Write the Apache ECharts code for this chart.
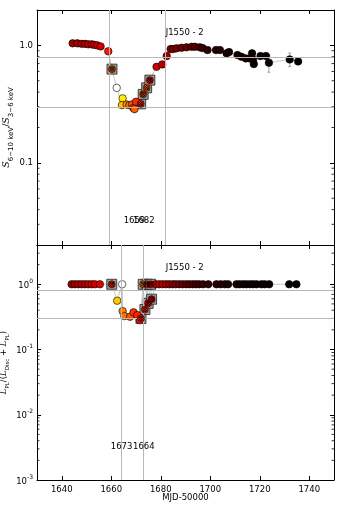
<!DOCTYPE html>
<html>
<head>
<meta charset="utf-8">
<script src="https://cdn.jsdelivr.net/npm/echarts@6/dist/echarts.min.js"></script>
<style>
  html, body { margin: 0; padding: 0; background: #fff; }
  #chart { width: 341px; height: 511px; }
</style>
</head>
<body>
<div id="chart"></div>
<script>
// ---- data ----
// top panel: hardness ratio S(6-10 keV)/S(3-6 keV)
const topDays = [1644.4, 1646.3, 1648.0, 1649.4, 1650.7, 1652.1, 1653.1, 1654.3, 1655.7, 1658.8,
  1662.2, 1664.6, 1664.3, 1666.2, 1667.3, 1668.4, 1668.9, 1669.4, 1670.0,
  1678.3, 1680.6, 1682.4, 1684.0, 1685.0, 1686.4, 1688.4, 1690.4, 1692.5, 1693.8, 1695.8,
  1696.9, 1698.9, 1702.3, 1703.9, 1706.6, 1707.6, 1711.0, 1712.6, 1714.4, 1716.0, 1716.9,
  1717.3, 1717.6, 1720.3, 1722.5, 1723.7, 1732.1, 1735.5];
const topRatio = [1.04, 1.04, 1.03, 1.03, 1.02, 1.02, 1.01, 1.0, 0.98, 0.89,
  0.435, 0.354, 0.310, 0.314, 0.310, 0.314, 0.294, 0.287, 0.331,
  0.657, 0.689, 0.811, 0.93, 0.93, 0.943, 0.954, 0.962, 0.973, 0.973, 0.962,
  0.948, 0.912, 0.912, 0.912, 0.855, 0.877, 0.827, 0.80, 0.775, 0.775, 0.855,
  0.76, 0.693, 0.811, 0.811, 0.711, 0.76, 0.73];
const topErr = [0.01, 0.01, 0.01, 0.01, 0.01, 0.01, 0.01, 0.01, 0.01, 0.02,
  0.02, 0.02, 0.02, 0.02, 0.02, 0.02, 0.02, 0.02, 0.02,
  0.02, 0.02, 0.02, 0.02, 0.02, 0.02, 0.02, 0.02, 0.02, 0.02, 0.02,
  0.02, 0.02, 0.02, 0.02, 0.03, 0.03, 0.03, 0.03, 0.03, 0.03, 0.05,
  0.03, 0.04, 0.04, 0.04, 0.12, 0.10, 0.04];
const topColors = ['#9a0000', '#a00000', '#a80000', '#ac0000', '#b20000', '#b80000', '#c00000', '#c80000', '#d40000', '#ff1400',
  '#ffffff', '#ffee00', '#ffc400', '#ff8a00', '#ff7000', '#ff5000', '#ff3c00', '#ff6000', '#ff2800',
  '#c80000', '#b40000', '#a00000', '#880000', '#800000', '#780000', '#700000', '#640000', '#5a0000', '#500000', '#460000',
  '#3c0000', '#300000', '#260000', '#220000', '#1c0000', '#1a0000', '#160000', '#140000', '#120000', '#100000', '#0e0000',
  '#0e0000', '#0c0000', '#0a0000', '#080000', '#060000', '#040000', '#020000'];
// top panel: hatched square points
const topSqDays = [1660.3, 1671.9, 1672.9, 1674.3, 1675.6];
const topSqRatio = [0.628, 0.318, 0.383, 0.435, 0.506];
const topSqColors = ['#e05000', '#ff2000', '#d04000', '#ff5000', '#e00000'];

// bottom panel: power-law fraction L_PL/(L_Disc+L_PL)
const botDays = [1644.0, 1645.3, 1646.7, 1648.0, 1649.4, 1650.7, 1652.1, 1653.4, 1655.4,
  1662.4, 1664.4, 1664.6, 1665.3, 1667.6, 1669.0, 1670.5, 1671.6,
  1678.0, 1679.4, 1680.7, 1682.1, 1683.4, 1684.8, 1686.0, 1687.4, 1688.8, 1690.2, 1691.5,
  1692.9, 1694.2, 1695.5, 1697.1, 1699.2, 1702.5, 1704.2, 1705.9, 1707.2, 1710.6, 1711.9,
  1713.3, 1714.6, 1716.0, 1717.3, 1718.7, 1720.7, 1722.0, 1723.8, 1731.9, 1734.8];
const botFrac = [1, 1, 1, 1, 1, 1, 1, 1, 1,
  0.56, 1, 0.388, 0.325, 0.318, 0.371, 0.337, 0.282,
  1, 1, 1, 1, 1, 1, 1, 1, 1, 1, 1,
  1, 1, 1, 1, 1, 1, 1, 1, 1, 1, 1,
  1, 1, 1, 1, 1, 1, 1, 1, 1, 1];
const botColors = ['#9a0000', '#a00000', '#a80000', '#b00000', '#b80000', '#c00000', '#c80000', '#d00000', '#e00000',
  '#ffc800', '#ffffff', '#ff8000', '#ff7000', '#ff5000', '#ff3000', '#ff2000', '#ff1000',
  '#c80000', '#bc0000', '#b00000', '#a40000', '#980000', '#8c0000', '#800000', '#760000', '#6c0000', '#620000', '#580000',
  '#4e0000', '#460000', '#3e0000', '#360000', '#2e0000', '#280000', '#220000', '#1e0000', '#1a0000', '#160000', '#140000',
  '#120000', '#100000', '#0e0000', '#0c0000', '#0a0000', '#080000', '#060000', '#050000', '#030000', '#020000'];
const botSqDays = [1660.2, 1672.0, 1672.9, 1673.6, 1674.5, 1674.9, 1675.9, 1676.3];
const botSqFrac = [1, 0.30, 1, 0.41, 1, 0.51, 1, 0.59];
const botSqColors = ['#e02000', '#ff2000', '#ff7000', '#ff2000', '#ff4000', '#e00000', '#d00000', '#c00000'];

// reference lines and labels
const topVLines = [1659, 1682];
const botVLines = [1664, 1673];
const hLines = [0.8, 0.3];
const X_MIN = 1630, X_MAX = 1750;
const TOP_Y = [0.02, 2];
const BOT_Y = [0.001, 4];

const FONT = 'DejaVu Sans';
const chart = echarts.init(document.getElementById('chart'));

function pairs(xs, ys) { return xs.map((x, i) => [x, ys[i]]); }
function sortedLine(a, b) { return a.concat(b).sort((p, q) => p[0] - q[0]); }

// minor log ticks (2..9 x 10^k) inside the extent
function minorTicks(lo, hi) {
  const out = [];
  for (let k = Math.floor(Math.log10(lo)); k <= Math.ceil(Math.log10(hi)); k++) {
    for (let m = 2; m <= 9; m++) {
      const v = m * Math.pow(10, k);
      if (v > lo && v < hi) out.push([X_MIN, v]);
    }
  }
  return out;
}

function minorTickSeries(xi, yi, lo, hi) {
  return {
    type: 'custom', xAxisIndex: xi, yAxisIndex: yi, silent: true, clip: false, z: 1,
    data: minorTicks(lo, hi),
    renderItem: function (params, api) {
      const l = api.coord([X_MIN, api.value(1)]);
      const r = api.coord([X_MAX, api.value(1)]);
      const st = { stroke: '#000', lineWidth: 0.8 };
      return { type: 'group', children: [
        { type: 'line', shape: { x1: l[0], y1: l[1], x2: l[0] + 2.5, y2: l[1] }, style: st },
        { type: 'line', shape: { x1: r[0], y1: r[1], x2: r[0] - 2.5, y2: r[1] }, style: st }
      ] };
    }
  };
}

function xAxisPair(gi, showLabels) {
  const base = {
    type: 'value', gridIndex: gi, min: X_MIN, max: X_MAX, splitNumber: 6,
    splitLine: { show: false },
    axisLine: { show: true, onZero: false, lineStyle: { color: '#000', width: 1 } },
    axisTick: { inside: true, length: 4, lineStyle: { color: '#000' } }
  };
  return [
    Object.assign({}, base, {
      position: 'bottom',
      axisLabel: {
        show: showLabels, color: '#000', fontFamily: FONT, fontSize: 8.5, margin: 5,
        formatter: v => (v === X_MIN || v === X_MAX) ? '' : String(v)
      },
      name: showLabels ? 'MJD-50000' : '', nameLocation: 'middle', nameGap: 13,
      nameMoveOverlap: false,
      nameTextStyle: { color: '#000', fontFamily: FONT, fontSize: 8.5 }
    }),
    Object.assign({}, base, { position: 'top', axisLabel: { show: false } })
  ];
}

function yAxisPair(gi, ext, fmt, name, rich, gap) {
  const base = {
    type: 'log', logBase: 10, gridIndex: gi, min: ext[0], max: ext[1],
    splitLine: { show: false },
    axisLine: { show: true, onZero: false, lineStyle: { color: '#000', width: 1 } },
    axisTick: { inside: true, length: 4, lineStyle: { color: '#000' } }
  };
  return [
    Object.assign({}, base, {
      position: 'left',
      axisLabel: { color: '#000', fontFamily: FONT, fontSize: 8.5, margin: 4, formatter: fmt, rich: rich },
      name: name, nameLocation: 'middle', nameGap: gap, nameRotate: 90,
      nameMoveOverlap: false,
      nameTextStyle: { color: '#000', fontFamily: FONT, fontSize: 8, rich: rich }
    }),
    Object.assign({}, base, { position: 'right', axisLabel: { show: false } })
  ];
}

const supRich = {
  b: { fontFamily: FONT, fontSize: 8.5, color: '#000', lineHeight: 12, verticalAlign: 'bottom' },
  sup: { fontFamily: FONT, fontSize: 6, color: '#000', lineHeight: 12, verticalAlign: 'top' },
  i: { fontFamily: 'DejaVu Serif', fontStyle: 'italic', fontSize: 8.5, color: '#000', lineHeight: 12, verticalAlign: 'top' },
  s: { fontFamily: FONT, fontSize: 5.5, color: '#000', lineHeight: 12, verticalAlign: 'bottom' },
  n: { fontFamily: FONT, fontSize: 8.5, color: '#000', lineHeight: 12, verticalAlign: 'top' }
};
// the top label has larger subscripts
const topRich = Object.assign({}, supRich, {
  i: { fontFamily: 'DejaVu Serif', fontStyle: 'italic', fontSize: 9.5, color: '#000', lineHeight: 13, verticalAlign: 'top' },
  s: { fontFamily: FONT, fontSize: 7, color: '#000', lineHeight: 13, verticalAlign: 'bottom' },
  n: { fontFamily: FONT, fontSize: 9.5, color: '#000', lineHeight: 13, verticalAlign: 'top' }
});

function topFmt(v) {
  if (Math.abs(v - 1) < 1e-9) return '1.0';
  if (Math.abs(v - 0.1) < 1e-9) return '0.1';
  return '';
}
function botFmt(v) {
  const e = Math.round(Math.log10(v));
  if (Math.abs(Math.pow(10, e) - v) > 1e-9 * v || v > 1.5) return '';
  return '{b|10}{sup|' + (e < 0 ? '-' + (-e) : e) + '}';
}

const refLineStyle = { color: '#b8b8b8', width: 1, type: 'solid' };
function refLines(vs) {
  return {
    silent: true, symbol: 'none', label: { show: false }, lineStyle: refLineStyle,
    data: vs.map(v => ({ xAxis: v })).concat(hLines.map(h => ({ yAxis: h })))
  };
}
function textMarks(items) {
  return {
    silent: true, symbolSize: 0, itemStyle: { color: 'transparent' },
    label: { show: true, position: 'right', distance: 0, color: '#000', fontFamily: FONT, fontSize: 8.5,
      formatter: p => p.name },
    data: items.map(t => ({ name: t[0], coord: [t[1], t[2]] }))
  };
}

const circleStyle = cols => ({
  color: p => cols[p.dataIndex], borderColor: '#000', borderWidth: 0.6, opacity: 1
});
const hatchPath = 'path://M0,0L10,10M10,0L0,10M5,0L0,5M5,0L10,5M0,5L5,10M10,5L5,10';

function panelSeries(xi, yi, circ, circCols, sq, sqCols, vLines, texts) {
  return [
    {
      type: 'line', xAxisIndex: xi, yAxisIndex: yi, data: sortedLine(circ, sq),
      showSymbol: false, silent: true, z: 2,
      lineStyle: { color: '#b0b0b0', width: 0.7 },
      markLine: refLines(vLines), markPoint: textMarks(texts)
    },
    {
      type: 'scatter', xAxisIndex: xi, yAxisIndex: yi, data: sq, z: 3,
      symbol: 'rect', symbolSize: 10,
      itemStyle: { color: '#9c9c9c', borderColor: '#222', borderWidth: 0.8, opacity: 1 }
    },
    {
      type: 'scatter', xAxisIndex: xi, yAxisIndex: yi, data: circ, z: 4,
      symbol: 'circle', symbolSize: 7.5, itemStyle: circleStyle(circCols)
    },
    {
      type: 'scatter', xAxisIndex: xi, yAxisIndex: yi, data: sq, z: 5,
      symbol: 'circle', symbolSize: 7, itemStyle: circleStyle(sqCols)
    },
    {
      type: 'scatter', xAxisIndex: xi, yAxisIndex: yi, data: sq, z: 6, silent: true,
      symbol: hatchPath, symbolSize: 5,
      itemStyle: { color: 'none', borderColor: '#000', borderWidth: 0.8, opacity: 1 }
    }
  ];
}

const topPts = pairs(topDays, topRatio);
const errData = topDays.map((d, i) => [d, topRatio[i], topErr[i]]);

const option = {
  animation: false,
  backgroundColor: '#fff',
  grid: [
    { left: 37, right: 7, top: 10, height: 235, containLabel: false, outerBoundsMode: 'none' },
    { left: 37, right: 7, top: 245, height: 235, containLabel: false, outerBoundsMode: 'none' }
  ],
  xAxis: xAxisPair(0, false).concat(xAxisPair(1, true)),
  yAxis: yAxisPair(0, TOP_Y, topFmt,
      '{i|S}{s|6−10 keV}{n|/}{i|S}{s|3−6 keV}', topRich, 22)
    .concat(yAxisPair(1, BOT_Y, botFmt,
      '{i|L}{s|PL}{n|/(}{i|L}{s|Disc}{n| + }{i|L}{s|PL}{n|)}', supRich, 26)),
  series: [
    {
      type: 'custom', xAxisIndex: 0, yAxisIndex: 0, data: errData, silent: true, z: 2,
      renderItem: function (params, api) {
        const x = api.value(0), y = api.value(1), e = api.value(2);
        const a = api.coord([x, y + e]);
        const b = api.coord([x, y - e]);
        const st = { stroke: '#8a8a8a', lineWidth: 0.8 };
        return { type: 'group', children: [
          { type: 'line', shape: { x1: a[0], y1: a[1], x2: b[0], y2: b[1] }, style: st },
          { type: 'line', shape: { x1: a[0] - 1.5, y1: a[1], x2: a[0] + 1.5, y2: a[1] }, style: st },
          { type: 'line', shape: { x1: b[0] - 1.5, y1: b[1], x2: b[0] + 1.5, y2: b[1] }, style: st }
        ] };
      }
    },
    minorTickSeries(0, 0, TOP_Y[0], TOP_Y[1]),
    minorTickSeries(2, 2, BOT_Y[0], BOT_Y[1])
  ]
    .concat(panelSeries(0, 0, topPts, topColors, pairs(topSqDays, topSqRatio), topSqColors, topVLines,
      [['J1550 - 2', 1682.0, 1.29], ['1659', 1665.0, 0.032], ['1682', 1668.8, 0.032]]))
    .concat(panelSeries(2, 2, pairs(botDays, botFrac), botColors, pairs(botSqDays, botSqFrac), botSqColors, botVLines,
      [['J1550 - 2', 1682.0, 1.76], ['1673', 1659.8, 0.00325], ['1664', 1668.8, 0.00325]]))
};

chart.setOption(option);
</script>
</body>
</html>
